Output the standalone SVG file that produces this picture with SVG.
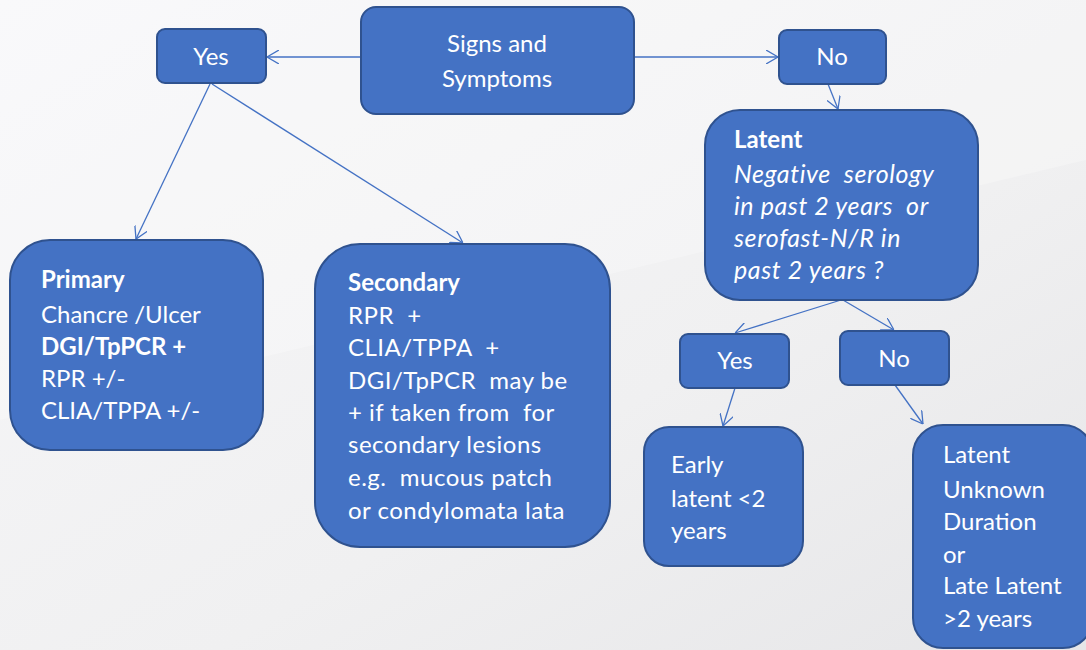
<svg xmlns="http://www.w3.org/2000/svg" width="1086" height="650" viewBox="0 0 1086 650">
<defs>
<linearGradient id="bg" x1="0" y1="0" x2="1" y2="1">
<stop offset="0" stop-color="#f7f7f9"/>
<stop offset="0.6" stop-color="#f0f0f1"/>
<stop offset="1" stop-color="#e6e6e8"/>
</linearGradient>
<marker id="arr" viewBox="0 0 12 14" refX="12" refY="7" markerWidth="12" markerHeight="14" markerUnits="userSpaceOnUse" orient="auto">
<path d="M0,0 L12,7 L0,14" fill="none" stroke="#4472C4" stroke-width="1.3"/>
</marker>
<style>
.n{fill:#4472C4;stroke:#2F528F;stroke-width:2}
.t{fill:#fff;font-family:Lato,"Liberation Sans",sans-serif;font-size:24px}
.c{text-anchor:middle}
.b{font-weight:bold}
.i{font-style:italic;font-size:25px;letter-spacing:0.6px}
.w{letter-spacing:0.5px}
.e{fill:none;stroke:#4472C4;stroke-width:1.3;marker-end:url(#arr)}
</style>
</defs>
<rect width="1086" height="650" fill="url(#bg)"/>
<polygon points="0,420 1086,160 1086,0 0,0" fill="#ffffff" opacity="0.25"/>
<g id="connectors">
<line class="e" x1="361" y1="57" x2="267" y2="57"/>
<line class="e" x1="634" y1="57" x2="778" y2="57"/>
<line class="e" x1="828" y1="84" x2="838" y2="109"/>
<line class="e" x1="210" y1="84" x2="136" y2="239"/>
<line class="e" x1="212" y1="84" x2="463" y2="243"/>
<line class="e" x1="841" y1="300" x2="735" y2="333"/>
<line class="e" x1="843" y1="300" x2="894" y2="330"/>
<line class="e" x1="735" y1="388" x2="723" y2="426"/>
<line class="e" x1="895" y1="385" x2="923" y2="424"/>
</g>
<g id="signs">
<rect class="n" x="361" y="7" width="273" height="107" rx="15"/>
<text class="t c" x="497" y="52">Signs and</text>
<text class="t c" x="497" y="87">Symptoms</text>
</g>
<g id="yes1">
<rect class="n" x="157" y="29" width="109" height="54" rx="8"/>
<text class="t c" x="211" y="65">Yes</text>
</g>
<g id="no1">
<rect class="n" x="779" y="30" width="107" height="54" rx="8"/>
<text class="t c" x="832" y="65">No</text>
</g>
<g id="primary">
<rect class="n" x="10" y="240" width="253" height="210" rx="40"/>
<text class="t b" x="41" y="288">Primary</text>
<text class="t" x="41" y="323">Chancre /Ulcer</text>
<text class="t b" x="41" y="355">DGI/TpPCR +</text>
<text class="t" x="41" y="387">RPR +/-</text>
<text class="t" x="41" y="419">CLIA/TPPA +/-</text>
</g>
<g id="secondary">
<rect class="n" x="315" y="244" width="295" height="303" rx="45"/>
<text class="t b" x="348" y="291">Secondary</text>
<text class="t w" x="348" y="324" xml:space="preserve">RPR  +</text>
<text class="t w" x="348" y="356" xml:space="preserve">CLIA/TPPA  +</text>
<text class="t w" x="348" y="389" xml:space="preserve">DGI/TpPCR  may be</text>
<text class="t w" x="348" y="421" xml:space="preserve">+ if taken from  for</text>
<text class="t w" x="348" y="453">secondary lesions</text>
<text class="t w" x="348" y="486" xml:space="preserve">e.g.  mucous patch</text>
<text class="t w" x="348" y="519">or condylomata lata</text>
</g>
<g id="latent">
<rect class="n" x="705" y="110" width="273" height="190" rx="35"/>
<text class="t b" x="734" y="148">Latent</text>
<text class="t i" x="734" y="183" xml:space="preserve">Negative  serology</text>
<text class="t i" x="734" y="215" xml:space="preserve">in past 2 years  or</text>
<text class="t i" x="734" y="247">serofast-N/R in</text>
<text class="t i" x="734" y="279">past 2 years ?</text>
</g>
<g id="yes2">
<rect class="n" x="680" y="334" width="109" height="54" rx="8"/>
<text class="t c" x="735" y="369">Yes</text>
</g>
<g id="no2">
<rect class="n" x="840" y="331" width="109" height="54" rx="8"/>
<text class="t c" x="894" y="367">No</text>
</g>
<g id="early">
<rect class="n" x="644" y="427" width="159" height="139" rx="25"/>
<text class="t" x="671" y="473">Early</text>
<text class="t" x="671" y="507">latent &lt;2</text>
<text class="t" x="671" y="539">years</text>
</g>
<g id="late">
<rect class="n" x="913" y="425" width="180" height="223" rx="30"/>
<text class="t" x="943" y="463">Latent</text>
<text class="t" x="943" y="498">Unknown</text>
<text class="t" x="943" y="530">Duration</text>
<text class="t" x="943" y="563">or</text>
<text class="t" x="943" y="594">Late Latent</text>
<text class="t" x="943" y="627">&gt;2 years</text>
</g>
</svg>
